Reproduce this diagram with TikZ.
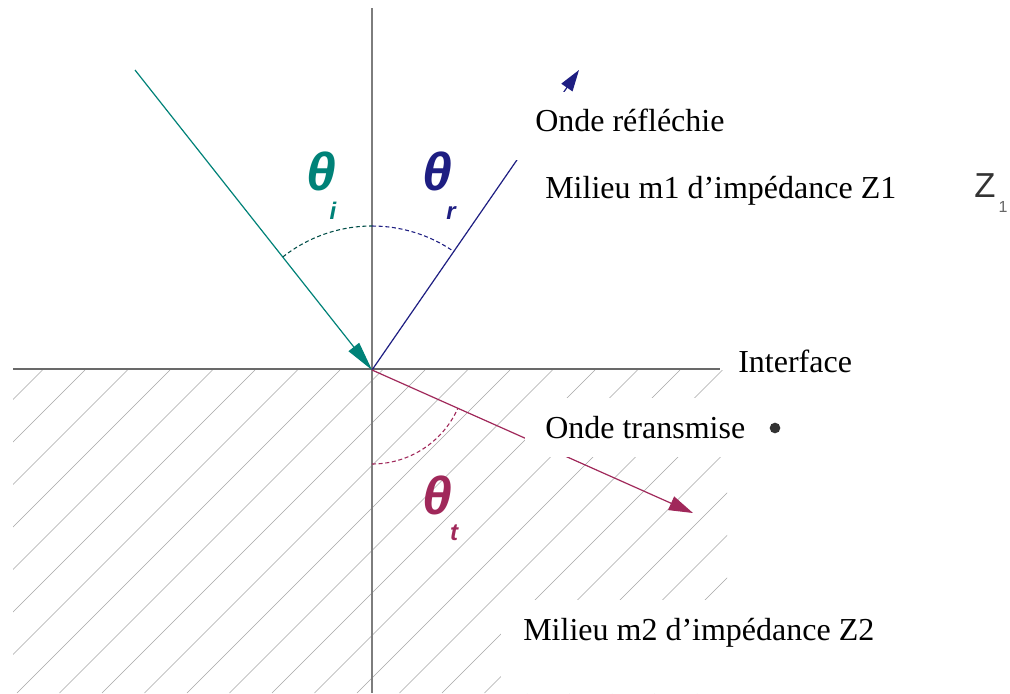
\documentclass[tikz,border=0pt]{standalone}
\usepackage{fontspec}
\setmainfont{Liberation Serif}
\newfontfamily\grk{Liberation Sans}
\usetikzlibrary{arrows.meta}
\definecolor{tealray}{RGB}{0,130,120}
\definecolor{navyray}{RGB}{30,30,130}
\definecolor{maroonray}{RGB}{160,40,90}
\definecolor{axisgray}{RGB}{125,125,125}
\definecolor{ifacegray}{RGB}{105,105,105}
\begin{document}
\begin{tikzpicture}[x=0.75pt,y=-0.75pt,
  hatch/.style={draw=gray!70,line width=0.5pt},
  axisline/.style={draw=axisgray,line width=1.1pt},
  ifaceline/.style={draw=ifacegray,line width=2.2pt},
  ray/.style={line width=0.9pt},
  arcline/.style={line width=0.8pt,densely dashed},
  lbl/.style={font=\fontsize{24}{24}\selectfont,inner sep=0pt,anchor=base west},
  boxlbl/.style={lbl,fill=white},
  theta/.style={font=\grk\bfseries\itshape\fontsize{40}{40}\selectfont,inner sep=0pt,anchor=base,text height=29pt,text depth=0pt},
  thsub/.style={font=\grk\bfseries\itshape\fontsize{18}{18}\selectfont,inner sep=0pt,anchor=base,text height=12.5pt,text depth=0pt}]
\useasboundingbox (0,0) rectangle (1010,693);
\fill[white] (0,0) rectangle (1010,693);
% key points
\coordinate (O) at (372,370);
\coordinate (top) at (372,8);
\coordinate (bot) at (372,693);
\coordinate (ifl) at (13,369);
\coordinate (ifr) at (720,369);
\coordinate (src) at (135,70);
\coordinate (rtip) at (579,70);
\coordinate (ttip) at (693,513);
% hatching of medium 2
\begin{scope}
  \clip (13,370) rectangle (727,693);
  \foreach \k in {-11,...,15} {
    \pgfmathsetmacro{\c}{795+42.5*\k}
    \draw[hatch] ({\c-370},370) -- ({\c-693},693);
  }
\end{scope}
% axes
\draw[axisline] (top) -- (bot);
\draw[ifaceline] (ifl) -- (ifr);
% rays
\draw[ray,tealray,-{Triangle[length=22pt,width=10pt]}] (src) -- (O);
\draw[ray,navyray,-{Triangle[length=16pt,width=10pt]}] (O) -- (rtip);
\draw[ray,maroonray,-{Triangle[length=18pt,width=11pt]}] (O) -- (ttip);
% angle arcs
\draw[arcline,tealray!60!black] (O) ++(-128.3:144) arc[start angle=-128.3,end angle=-90,radius=144];
\draw[arcline,navyray] (O) ++(-90:144) arc[start angle=-90,end angle=-55.4,radius=144];
\draw[arcline,maroonray] (O) ++(90:94) arc[start angle=90,end angle=24,radius=94];
% angle labels
\node[theta,text=tealray] (thi) at (321,190) {θ};
\node[thsub,text=tealray] (thisub) at (333,219) {i};
\node[theta,text=navyray] (thr) at (437,190) {θ};
\node[thsub,text=navyray] (thrsub) at (451,219) {r};
\node[theta,text=maroonray] (tht) at (437,514) {θ};
\node[thsub,text=maroonray] (thtsub) at (454,540) {t};
% text labels (white boxes hide parts of the rays and hatching)
\node[boxlbl,text height=29.25pt,text depth=21.75pt,inner xsep=15pt] (refl) at (515,131) {Onde réfléchie};
\node[lbl] (m1) at (545,198) {Milieu m1 d’impédance Z1};
\node[lbl] (iface) at (738,372) {Interface};
\node[boxlbl,text height=30pt,text depth=14.25pt,inner xsep=15pt] (trans) at (525,438) {Onde transmise};
\node[boxlbl,text height=30pt,text depth=39.75pt,inner xsep=16.5pt] (m2) at (501,640) {Milieu m2 d’impédance Z2};
\node[circle,fill=black!80,minimum size=8pt,inner sep=0pt] (dot) at (775,428) {};
% Z1 symbol
\node[font=\grk\fontsize{26}{26}\selectfont,text=black!80,inner sep=0pt] (zed) at (985,186) {Z};
\node[font=\grk\fontsize{12}{12}\selectfont,text=black!60,inner sep=0pt] (zedsub) at (1003,207) {1};
\end{tikzpicture}
\end{document}
